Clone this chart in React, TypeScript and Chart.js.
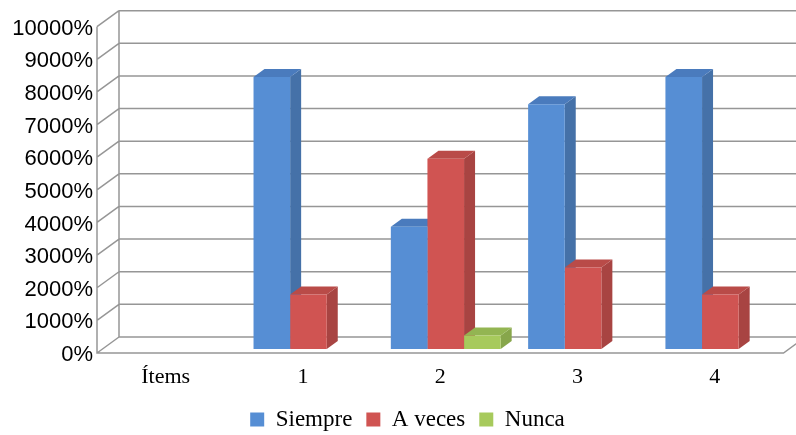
import { useEffect, useRef } from "react";
import { Chart, registerables } from "chart.js";

Chart.register(...registerables);

// Categories along the floor and the three answer series (percent values)
const categories = ["Ítems", "1", "2", "3", "4"];
const seriesNames = ["Siempre", "A veces", "Nunca"];
const siempre = [null, 83.33, 37.5, 75, 83.33];
const aVeces = [null, 16.67, 58.33, 25, 16.67];
const nunca = [null, 0, 4.17, 0, 0];

// Value axis
const yMin = 0;
const yMax = 100;
const yStep = 10;

// Face colours: front, top, side
const frontColors = ["#568ed4", "#d05452", "#a7ca5c"];
const topColors = ["#4a7bbd", "#b94b48", "#93b552"];
const sideColors = ["#4571a8", "#a84442", "#87a64b"];

const GRID = "#969696";
// Oblique depth of the floor; bars sit in the middle half of it
const DEPTH_X = 22;
const DEPTH_Y = 16;
// Horizontal nudge of the legend row
const LEGEND_SHIFT = 13;

const walls = {
  id: "walls",
  beforeDatasetsDraw(chart: any) {
    const { ctx, chartArea: a } = chart;
    const ys = chart.scales.y;
    const bx = DEPTH_X * 0.75, by = DEPTH_Y * 0.75; // bar plane -> back wall
    const fx = DEPTH_X * 0.25, fy = DEPTH_Y * 0.25; // bar plane -> front edge
    ctx.save();
    ctx.strokeStyle = GRID;
    ctx.lineWidth = 1.5;
    ctx.beginPath();
    for (const t of ys.ticks) {
      const py = ys.getPixelForValue(t.value);
      ctx.moveTo(a.left + bx, py - by);
      ctx.lineTo(a.right + bx + 20, py - by);
      ctx.moveTo(a.left - fx, py + fy);
      ctx.lineTo(a.left + bx, py - by);
    }
    const top = ys.getPixelForValue(yMax);
    const bottom = ys.getPixelForValue(yMin);
    ctx.moveTo(a.left + bx, top - by);
    ctx.lineTo(a.left + bx, bottom - by);
    ctx.moveTo(a.left - fx, top + fy);
    ctx.lineTo(a.left - fx, bottom + fy);
    ctx.lineTo(a.right - fx, bottom + fy);
    ctx.lineTo(a.right + bx, bottom - by);
    ctx.stroke();
    ctx.restore();
  },
};

const barDepth = {
  id: "barDepth",
  beforeDatasetsDraw(chart: any) {
    const { ctx } = chart;
    const dx = DEPTH_X * 0.5, dy = DEPTH_Y * 0.5;
    ctx.save();
    for (let i = 0; i < categories.length; i++) {
      chart.data.datasets.forEach((ds: any, d: number) => {
        const v = ds.data[i];
        if (!v) return;
        const el = chart.getDatasetMeta(d).data[i];
        const { x, y, width, base } = el.getProps(["x", "y", "width", "base"], true);
        const l = x - width / 2;
        const r = x + width / 2;
        ctx.fillStyle = sideColors[d];
        ctx.beginPath();
        ctx.moveTo(r, y);
        ctx.lineTo(r + dx, y - dy);
        ctx.lineTo(r + dx, base - dy);
        ctx.lineTo(r, base);
        ctx.closePath();
        ctx.fill();
        ctx.fillStyle = topColors[d];
        ctx.beginPath();
        ctx.moveTo(l, y);
        ctx.lineTo(r, y);
        ctx.lineTo(r + dx, y - dy);
        ctx.lineTo(l + dx, y - dy);
        ctx.closePath();
        ctx.fill();
      });
    }
    ctx.restore();
  },
};

const legendShift = {
  id: "legendShift",
  afterLayout(chart: any) {
    if (chart.legend) {
      chart.legend.left += LEGEND_SHIFT;
      chart.legend.right += LEGEND_SHIFT;
    }
  },
};

export default function App() {
  const ref = useRef<HTMLCanvasElement | null>(null);

  useEffect(() => {
    if (!ref.current) return;
    const values = [siempre, aVeces, nunca];
    const chart = new Chart(ref.current, {
      type: "bar",
      data: {
        labels: categories,
        datasets: seriesNames.map((name, i) => ({
          label: name,
          data: values[i],
          backgroundColor: frontColors[i],
          borderWidth: 0,
          barPercentage: 1,
          categoryPercentage: 0.8,
        })),
      },
      options: {
        animation: false,
        responsive: false,
        maintainAspectRatio: false,
        color: "#000",
        layout: { padding: { left: 0, right: 7, top: 19, bottom: 0 } },
        plugins: {
          tooltip: { enabled: false },
          legend: {
            position: "bottom",
            maxHeight: 41,
            labels: {
              boxWidth: 14,
              boxHeight: 14,
              padding: 14,
              color: "#000",
              font: { family: "'Liberation Serif'", size: 23 },
            },
          },
        },
        scales: {
          x: {
            grid: { display: false, drawTicks: false },
            border: { display: false },
            ticks: {
              color: "#000",
              font: { family: "'Liberation Serif'", size: 22 },
              padding: 15,
              labelOffset: -5.5,
              maxRotation: 0,
              autoSkip: false,
            },
            afterFit: (s: any) => {
              s.height = 45;
            },
          },
          y: {
            min: yMin,
            max: yMax,
            grid: { display: false, drawTicks: false },
            border: { display: false },
            ticks: {
              stepSize: yStep,
              color: "#000",
              font: { family: "'Liberation Sans'", size: 22 },
              padding: 9.5,
              labelOffset: 6,
              callback: (v: any) => `${Math.round(Number(v) * 100)}%`,
            },
            afterFit: (s: any) => {
              s.width = 102.5;
            },
          },
        },
      },
      plugins: [walls, barDepth, legendShift],
    });
    return () => chart.destroy();
  }, []);

  return (
    <div style={{ position: "fixed", left: 0, top: 0, width: 796, height: 435, background: "#fff" }}>
      <canvas ref={ref} width={796} height={435} />
    </div>
  );
}
